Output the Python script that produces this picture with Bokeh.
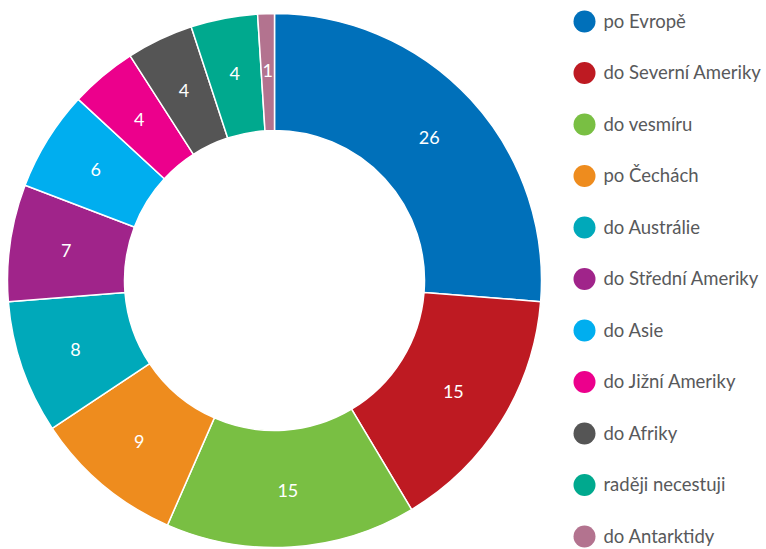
import math
from bokeh.plotting import figure
from bokeh.models import Range1d, ColumnDataSource
from bokeh.core.properties import value
from bokeh.embed import file_html
from bokeh.resources import INLINE

categories = ["po Evropě", "do Severní Ameriky", "do vesmíru", "po Čechách",
              "do Austrálie", "do Střední Ameriky", "do Asie", "do Jižní Ameriky",
              "do Afriky", "raději necestuji", "do Antarktidy"]
values = [26, 15, 15, 9, 8, 7, 6, 4, 4, 4, 1]
colors = ["#0070BA", "#BE1A22", "#79BF43", "#EE8C1E", "#00A9BA", "#A0248A",
          "#00AEEF", "#EC008C", "#555555", "#00A98E", "#B3738F"]

W, H = 766, 549
cx, cy = 274, H - 280
r_out, r_in = 267, 150
FONT = "Lato"

total = sum(values)
starts, ends, lx, ly = [], [], [], []
acc = 0.0
for v in values:
    a0 = math.pi / 2 - 2 * math.pi * acc / total
    acc += v
    a1 = math.pi / 2 - 2 * math.pi * acc / total
    starts.append(a0)
    ends.append(a1)
    mid = (a0 + a1) / 2
    rm = (r_out + r_in) / 2 + 2
    lx.append(cx + rm * math.cos(mid))
    ly.append(cy + rm * math.sin(mid))

src = ColumnDataSource(dict(start=starts, end=ends, color=colors,
                            lx=lx, ly=ly, label=[str(v) for v in values],
                            cat=categories))

p = figure(width=W, height=H, output_backend="svg", toolbar_location=None,
           x_range=Range1d(0, W), y_range=Range1d(0, H),
           min_border=0, outline_line_color=None)
p.axis.visible = False
p.grid.visible = False

p.annular_wedge(x=cx, y=cy, inner_radius=r_in, outer_radius=r_out,
                start_angle="start", end_angle="end", direction="clock",
                fill_color="color", line_color="white", line_width=1.5,
                source=src)

p.text(x="lx", y="ly", text="label", source=src, text_color="white",
       text_font=value(FONT), text_font_size="18px",
       text_align="center", text_baseline="middle")

# legend column on the right
leg_y = [H - (21 + i * 51.5) for i in range(len(categories))]
leg_src = ColumnDataSource(dict(y=leg_y, color=colors, cat=categories))
p.scatter(x=584, y="y", size=22, marker="circle", fill_color="color",
          line_color=None, source=leg_src)
p.text(x=603, y="y", text="cat", source=leg_src, text_color="#58595B",
       text_font=value(FONT), text_font_size="18.5px",
       text_align="left", text_baseline="middle", y_offset=-1)

open("out.html", "w").write(file_html(p, INLINE))
